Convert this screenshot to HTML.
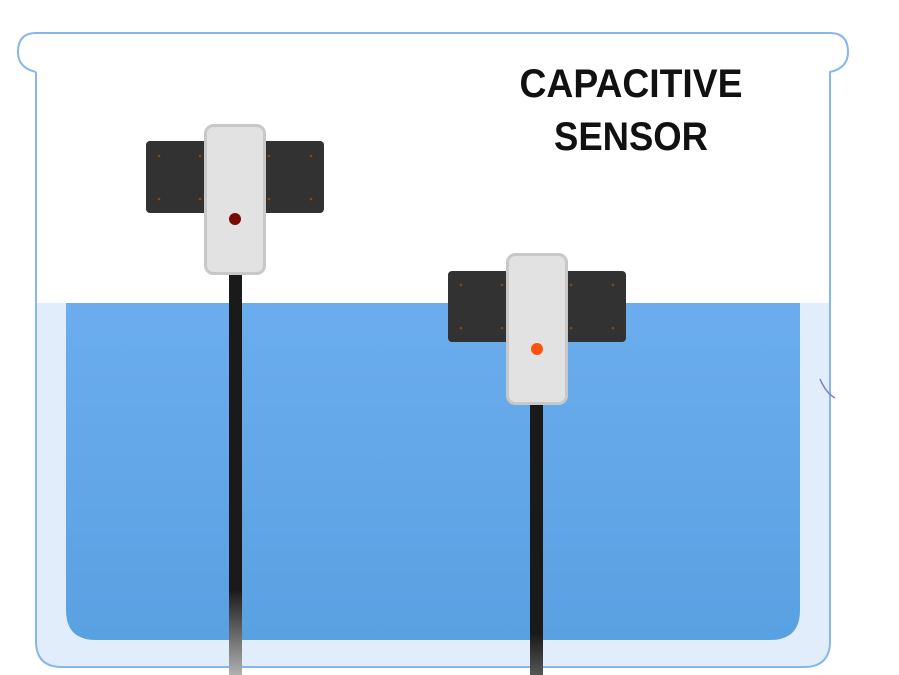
<!DOCTYPE html>
<html><head><meta charset="utf-8"><style>html,body{margin:0;padding:0;background:#fff;}svg{display:block}</style></head>
<body>
<svg width="899" height="675" viewBox="0 0 899 675" xmlns="http://www.w3.org/2000/svg">
<defs>
<linearGradient id="w" x1="0" y1="0" x2="0" y2="1"><stop offset="0" stop-color="#6badee"/><stop offset="1" stop-color="#5aa1e2"/></linearGradient>
<linearGradient id="c1" x1="0" y1="0" x2="0" y2="1"><stop offset="0" stop-color="#1a1a1a"/><stop offset="0.79" stop-color="#1a1a1a"/><stop offset="1" stop-color="#b0b0b0"/></linearGradient>
<linearGradient id="c2" x1="0" y1="0" x2="0" y2="1"><stop offset="0" stop-color="#1a1a1a"/><stop offset="0.85" stop-color="#1a1a1a"/><stop offset="1" stop-color="#555"/></linearGradient>
</defs>
<!-- light fill -->
<path d="M37 303 H829 V641 Q829 666 804 666 H62 Q37 666 37 641 Z" fill="#e1edfb"/>
<!-- water -->
<path d="M66 303 H800 V610 Q800 640 770 640 H96 Q66 640 66 610 Z" fill="url(#w)"/>
<!-- beaker outline -->
<path d="M36 72 V641 Q36 667 62 667 H804 Q830 667 830 641 V72 Q848 68 848 52 Q848 33 830 33 H36 Q18 33 18 52 Q18 68 36 72" fill="none" stroke="#86b6ee" stroke-width="2"/>
<path d="M820 379 Q826 393 835 398" fill="none" stroke="#7a80b8" stroke-width="1.5"/>
<!-- sensor 1 -->
<rect x="229" y="270" width="13" height="405" fill="url(#c1)"/>
<rect x="146" y="141" width="178" height="72" rx="4" fill="#323232"/>
<g fill="#7a4a20"><circle cx="159" cy="156" r="1.3"/><circle cx="200" cy="156" r="1.3"/><circle cx="269" cy="156" r="1.3"/><circle cx="311" cy="156" r="1.3"/><circle cx="159" cy="199" r="1.3"/><circle cx="200" cy="199" r="1.3"/><circle cx="269" cy="199" r="1.3"/><circle cx="311" cy="199" r="1.3"/></g>
<rect x="205.5" y="125.5" width="59" height="148" rx="8" fill="#e2e2e2" stroke="#c8c8c8" stroke-width="3"/>
<circle cx="235" cy="219" r="6" fill="#7a0a00"/>
<!-- sensor 2 -->
<rect x="530" y="400" width="13" height="275" fill="url(#c2)"/>
<rect x="448" y="271" width="178" height="71" rx="4" fill="#323232"/>
<g fill="#7a4a20"><circle cx="461" cy="285" r="1.3"/><circle cx="502" cy="285" r="1.3"/><circle cx="571" cy="285" r="1.3"/><circle cx="613" cy="285" r="1.3"/><circle cx="461" cy="328" r="1.3"/><circle cx="502" cy="328" r="1.3"/><circle cx="571" cy="328" r="1.3"/><circle cx="613" cy="328" r="1.3"/></g>
<rect x="507.5" y="254.5" width="59" height="149" rx="8" fill="#e2e2e2" stroke="#c8c8c8" stroke-width="3"/>
<circle cx="537" cy="349" r="6" fill="#ff5010"/>
<!-- text -->
<text x="631" y="97" text-anchor="middle" font-family="Liberation Sans, sans-serif" font-weight="bold" font-size="40" textLength="223" lengthAdjust="spacingAndGlyphs" fill="#111">CAPACITIVE</text>
<text x="631" y="150" text-anchor="middle" font-family="Liberation Sans, sans-serif" font-weight="bold" font-size="40" textLength="154" lengthAdjust="spacingAndGlyphs" fill="#111">SENSOR</text>
</svg>
</body></html>
